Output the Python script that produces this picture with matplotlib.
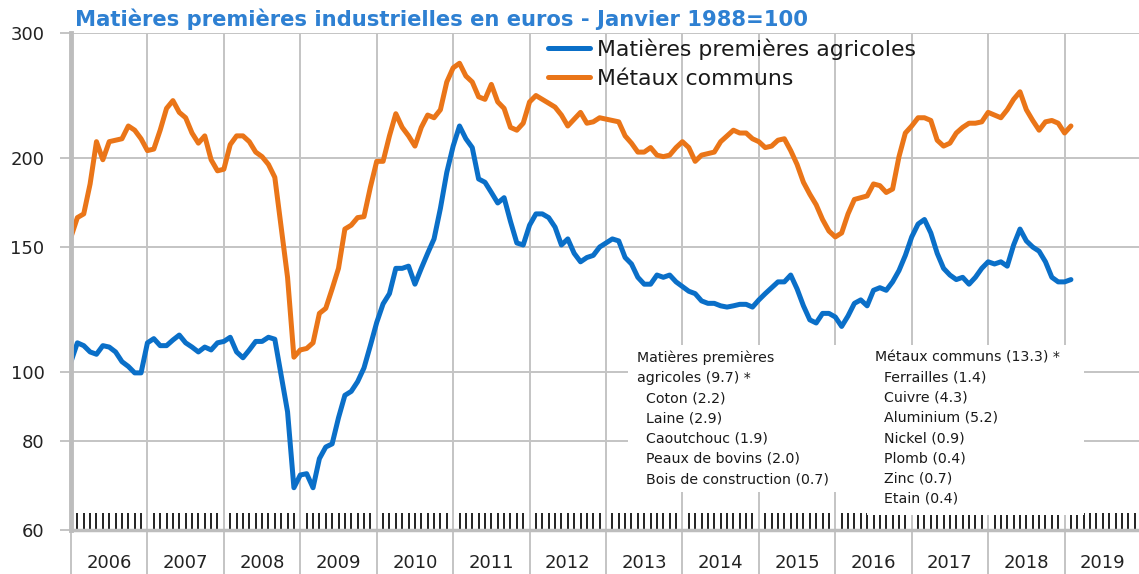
import numpy as np
import matplotlib.pyplot as plt
from matplotlib.ticker import FixedLocator, NullFormatter
from matplotlib.patches import Rectangle
import matplotlib.transforms as mtransforms

# monthly index values, Jan 2006 .. Feb 2019 (Janvier 1988 = 100)
agricoles = [
    103.5, 110, 109, 106.8, 106, 109, 108.5, 106.8, 103.5, 101.9, 99.8, 99.8,
    110, 111.5, 109, 109, 111, 112.8, 110, 108.5, 106.8, 108.5, 107.5, 110,
    110.5, 112, 106.8, 104.8, 107.5, 110.5, 110.5, 112, 111.3, 99, 88, 68.8,
    71.7, 72, 68.8, 75.6, 78.5, 79.3, 86.3, 92.8, 94, 97, 101.4, 109,
    117.5, 124.8, 129, 140, 140, 141, 133, 140, 147, 154, 170, 191,
    208, 222, 213, 207, 187, 185, 179, 173, 176, 163, 152, 151,
    161, 167, 167, 165, 160, 151, 154, 147, 143, 145, 146, 150,
    152, 154, 153, 145, 142, 136, 133, 133, 137, 136, 137, 134,
    132, 130, 129, 126, 125, 125, 124, 123.5, 124, 124.6, 124.6, 123.5,
    126.4, 129, 131.5, 134, 134, 137, 131, 124, 118.5, 117.3, 121, 121,
    119.6, 116, 120, 125, 126.4, 124, 130.4, 131.5, 130.4, 134, 139, 146,
    155, 161.6, 164, 157, 147, 140, 137, 135, 136, 133, 136, 140,
    143, 142, 143, 141, 151, 159, 153, 150, 148, 143, 136, 134,
    134, 135,
]
metaux = [
    155, 165, 167, 184, 211, 199, 211, 212, 213, 222, 219, 213,
    205, 206, 219, 235, 241, 232, 228, 217, 210, 215, 199, 192,
    193, 209, 215, 215, 211, 204, 201, 196, 188, 160, 136, 105,
    107.5, 108, 110, 121, 123, 131, 140, 159, 161, 165, 165.5, 182,
    198, 198, 215, 231, 221, 215, 208, 221, 230, 228, 234, 256,
    268, 272, 261, 256, 244, 242, 254, 240, 235, 221, 219, 224,
    240, 245, 242, 239, 236, 230, 222, 227, 232, 224, 225, 228,
    227, 226, 225, 215, 210, 204, 204, 207, 202, 201, 202, 207,
    211, 207, 198, 202, 203, 204, 211, 215, 219, 217, 217, 213,
    211, 207, 208, 212, 213, 205, 196, 185, 178, 172, 164, 158,
    155, 157, 167, 175, 176, 177, 184, 183, 179, 181, 201, 217,
    222, 228, 228, 226, 212, 208, 210, 217, 221, 224, 224, 225,
    232, 230, 228, 234, 242, 248, 234, 226, 219, 225, 226, 224,
    217, 222,
]
years = list(range(2006, 2020))
yticks = [60, 80, 100, 150, 200, 300]

texte_agri = ("Matières premières\nagricoles (9.7) *\n  Coton (2.2)\n  Laine (2.9)\n"
              "  Caoutchouc (1.9)\n  Peaux de bovins (2.0)\n  Bois de construction (0.7)")
texte_metaux = ("Métaux communs (13.3) *\n  Ferrailles (1.4)\n  Cuivre (4.3)\n  Aluminium (5.2)\n"
                "  Nickel (0.9)\n  Plomb (0.4)\n  Zinc (0.7)\n  Etain (0.4)")

bleu = '#0a6fc8'
orange = '#ea7518'
gris = '#c4c4c4'

dates = 2006 + np.arange(len(agricoles)) / 12

fig = plt.figure(figsize=(11.39, 5.74), dpi=100)
ax = fig.add_axes([71 / 1139, 44 / 574, 1070 / 1139, 497 / 574])

l1, = ax.plot(dates, agricoles, color=bleu, lw=3.6, solid_joinstyle='round', solid_capstyle='round')
l2, = ax.plot(dates, metaux, color=orange, lw=3.6, solid_joinstyle='round', solid_capstyle='round')

ax.set_yscale('log')
ax.set_ylim(60, 300)
ax.set_xlim(2006, 2020)
ax.yaxis.set_major_locator(FixedLocator(yticks))
ax.yaxis.set_minor_locator(FixedLocator([]))
ax.set_yticklabels([str(v) for v in yticks])
ax.tick_params(axis='y', which='major', direction='out', length=8, width=1.4, color=gris,
               pad=11, labelsize=13, labelcolor='#222222')

# year boundaries: gridlines that run down through the label band
ax.xaxis.set_major_locator(FixedLocator(years + [2020]))
ax.xaxis.set_major_formatter(NullFormatter())
ax.tick_params(axis='x', which='major', direction='out', length=33, width=1.4, color=gris)
# month ticks
mois = [y + m / 12 for y in years for m in range(1, 12)]
ax.xaxis.set_minor_locator(FixedLocator(mois))
ax.tick_params(axis='x', which='minor', direction='in', length=12, width=1.3, color='#111111')

ax.grid(True, which='major', color=gris, lw=1.4)
ax.set_axisbelow(True)

for s in ['top', 'right']:
    ax.spines[s].set_visible(False)
ax.spines['left'].set_color('#bdbdbd')
ax.spines['left'].set_linewidth(3.5)
ax.spines['bottom'].set_color('#bdbdbd')
ax.spines['bottom'].set_linewidth(2.5)

trans = mtransforms.blended_transform_factory(ax.transData, ax.transAxes)
for y in years:
    ax.text(y + 0.5, -0.066, str(y), transform=trans, ha='center', va='center',
            fontsize=13, color='#222222')

fig.text(75 / 1139, 1 - 19 / 574, "Matières premières industrielles en euros - Janvier 1988=100",
         color='#2e80d2', fontsize=15.2, fontweight='bold', va='center', ha='left')

ax.legend([l1, l2], ["Matières premières agricoles", "Métaux communs"],
          loc='upper left', bbox_to_anchor=(548 / 1139, 1 - 38 / 574),
          bbox_transform=fig.transFigure, frameon=False, fontsize=15.8,
          handlelength=1.9, handletextpad=0.35, labelspacing=0.42,
          borderpad=0, borderaxespad=0, labelcolor='#1a1a1a')

# white boxes behind the weights
ax.add_patch(Rectangle((0.5206, 0.0765), 0.2234, 0.2955, transform=ax.transAxes,
                       facecolor='white', edgecolor='none', zorder=1))
ax.add_patch(Rectangle((0.744, 0.03), 0.203, 0.342, transform=ax.transAxes,
                       facecolor='white', edgecolor='none', zorder=1))
ax.text(0.529, 0.362, texte_agri, transform=ax.transAxes, ha='left', va='top',
        fontsize=10.2, linespacing=1.57, color='#1a1a1a', zorder=3)
ax.text(0.751, 0.362, texte_metaux, transform=ax.transAxes, ha='left', va='top',
        fontsize=10.2, linespacing=1.57, color='#1a1a1a', zorder=3)

fig.savefig('out.png', dpi=100)
